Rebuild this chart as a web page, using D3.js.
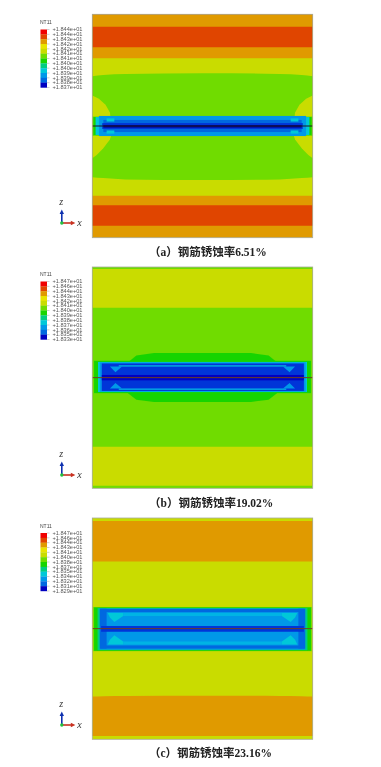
<!DOCTYPE html>
<html>
<head>
<meta charset="utf-8">
<style>
  html, body { margin: 0; padding: 0; background: #fff; }
  svg { display: block; }
</style>
<script src="https://cdn.jsdelivr.net/npm/d3@7"></script>
</head>
<body>
<svg id="chart" width="381" height="767"></svg>
<script>
// contour colours, top of legend to bottom
const levelColors = ['#f00000', '#e04400', '#e09a00', '#e8e400', '#c9dc00', '#6fdc00',
  '#18d400', '#00cc80', '#00c8d8', '#0098e8', '#0068e0', '#0000c0'];
// in-between shades seen inside the rebar zone, not in the legend
const shadeDeep = 12;
const shadeNavy = 13;
const shadeLight = 14;
const zoneColors = levelColors.concat(['#0034d8', '#000090', '#00b4e4']);

const captionsText = ['（a）钢筋锈蚀率6.51%', '（b）钢筋锈蚀率19.02%', '（c）钢筋锈蚀率23.16%'];

const legendA = [18.44, 18.44, 18.43, 18.42, 18.42, 18.41, 18.41, 18.40, 18.40, 18.39, 18.39, 18.38, 18.37];
const legendB = [18.47, 18.46, 18.44, 18.43, 18.42, 18.41, 18.40, 18.39, 18.38, 18.37, 18.36, 18.35, 18.33];
const legendC = [18.47, 18.46, 18.44, 18.43, 18.41, 18.40, 18.38, 18.37, 18.35, 18.34, 18.32, 18.31, 18.29];

// horizontal bands: [level, lower boundary depth in % of height]
// a boundary with several depths follows edgeStations, one depth is a straight band
const edgeStations = [0, 5, 15, 50, 85, 95, 100];
const bandsA = [
  [2, [5.55]], [1, [14.8]], [2, [19.7]],
  [4, [27.7, 27.2, 26.7, 26.4, 26.7, 27.2, 27.7]],
  [5, [72.9, 73.3, 73.9, 74.2, 73.9, 73.3, 72.9]],
  [4, [81.2]], [2, [85.5]], [1, [94.6]], [2, [100]]
];
const bandsB = [[5, [0.9]], [4, [18.4]], [5, [81.2]], [4, [98.8]], [5, [100]]];
const bandsC = [
  [4, [1.4]], [2, [19.6]],
  [4, [80.7, 80.5, 80.4, 80.3, 80.4, 80.5, 80.7]],
  [2, [98.5]], [4, [100]]
];

// closed contours: [level, [[x %, depth %], ...]]
const blobsA = [
  [4, [[0, 36.4], [3, 37.8], [6, 40.5], [8, 44], [8.2, 45.8], [0, 45.8]]],
  [4, [[0, 54.5], [8.5, 54.5], [8, 56], [5, 60], [2, 63], [0, 64.4]]],
  [4, [[100, 36.4], [97, 37.8], [94, 40.5], [92, 44], [91.8, 45.8], [100, 45.8]]],
  [4, [[100, 54.5], [91.5, 54.5], [92, 56], [95, 60], [98, 63], [100, 64.4]]]
];
const blobsB = [
  [6, [[16.2, 43], [20, 40], [28, 38.9], [72, 38.9], [80, 40], [83.8, 43],
    [83.8, 57], [80, 60], [72, 61], [28, 61], [20, 60], [16.2, 57]]]
];
const blobsC = [];

// rebar zone, painted in order: [level, x0, x1, depth0, depth1]
const zoneA = [
  [6, 0.5, 99.5, 46, 54],
  [8, 1.5, 98.5, 46, 54],
  [9, 3, 97, 45.5, 54.5],
  [10, 5, 95, 47.3, 52.7],
  [shadeDeep, 4.5, 95.5, 48.7, 51.3],
  [shadeNavy, 5, 95, 49.6, 50.7],
  [8, 6.5, 10, 46.6, 48],
  [8, 6.5, 10, 52, 53.4],
  [8, 90, 93.5, 46.6, 48],
  [8, 90, 93.5, 52, 53.4]
];
const zoneB = [
  [6, 0.8, 99.2, 42.4, 57],
  [8, 2.6, 97.4, 42.9, 56.5],
  [9, 3.4, 96.8, 43.1, 56.3],
  [shadeDeep, 4.3, 96, 43.6, 56],
  [shadeLight, 12, 88, 44.4, 45],
  [shadeLight, 12, 88, 54.9, 55.5],
  [11, 4.3, 96, 48.8, 51.2]
];
const zoneC = [
  [5, 0.4, 99.6, 40.2, 60.2],
  [6, 0.8, 99.2, 40.4, 60],
  [7, 2.4, 97.6, 40.7, 59.7],
  [9, 3.4, 96.6, 40.9, 59.5],
  [10, 3.6, 96.4, 41.1, 42.5],
  [10, 3.6, 96.4, 57.6, 59],
  [shadeLight, 14, 86, 42.9, 44.3],
  [shadeLight, 14, 86, 55.8, 57.2],
  [10, 3.4, 6.5, 41, 59],
  [10, 93.5, 96.6, 41, 59],
  [shadeDeep, 4, 96, 48.8, 51.4]
];
// lighter wedges near the zone ends
const wedgesB = [
  [9, [[8, 45], [13.5, 45], [10.5, 47.6]]],
  [9, [[8, 54.9], [13.5, 54.9], [10.5, 52.4]]],
  [9, [[92, 45], [86.5, 45], [89.5, 47.6]]],
  [9, [[92, 54.9], [86.5, 54.9], [89.5, 52.4]]]
];
const wedgesC = [
  [8, [[7, 42.9], [14, 42.9], [14, 44.3], [10, 47], [8, 45]]],
  [8, [[7, 57.2], [14, 57.2], [14, 55.8], [10, 53], [8, 55]]],
  [8, [[93, 42.9], [86, 42.9], [86, 44.3], [90, 47], [92, 45]]],
  [8, [[93, 57.2], [86, 57.2], [86, 55.8], [90, 53], [92, 55]]]
];

const svg = d3.select('#chart');

const defs = svg.append('defs');
defs.append('filter').attr('id', 'soft').append('feGaussianBlur').attr('stdDeviation', 0.65);
defs.append('filter').attr('id', 'softText').append('feGaussianBlur').attr('stdDeviation', 0.25);

function drawPanel(opts) {
  const x = d3.scaleLinear().domain([0, 100]).range([92.3, 312.7]);
  const y = d3.scaleLinear().domain([0, 100]).range([opts.top, opts.bottom]);
  const color = (i) => zoneColors[i];

  const plot = svg.append('g').attr('filter', 'url(#soft)');

  // lowest band first, each one reaches up to the top of the plot
  const area = d3.area()
    .x((d) => x(d[0]))
    .y0(y(0))
    .y1((d) => y(d[1]))
    .curve(d3.curveMonotoneX);
  plot.selectAll('path.band')
    .data(opts.bands.slice().reverse())
    .enter()
    .append('path')
    .attr('class', 'band')
    .attr('fill', (d) => color(d[0]))
    .attr('d', (d) => {
      const depths = d[1].length === 1 ? edgeStations.map(() => d[1][0]) : d[1];
      return area(edgeStations.map((s, i) => [s, depths[i]]));
    });

  const line = d3.line()
    .x((d) => x(d[0]))
    .y((d) => y(d[1]))
    .curve(d3.curveLinearClosed);

  plot.selectAll('path.blob')
    .data(opts.blobs)
    .enter()
    .append('path')
    .attr('class', 'blob')
    .attr('fill', (d) => color(d[0]))
    .attr('d', (d) => line(d[1]));

  plot.selectAll('rect.zone')
    .data(opts.zone)
    .enter()
    .append('rect')
    .attr('class', 'zone')
    .attr('x', (d) => x(d[1]))
    .attr('width', (d) => x(d[2]) - x(d[1]))
    .attr('y', (d) => y(d[3]))
    .attr('height', (d) => y(d[4]) - y(d[3]))
    .attr('fill', (d) => color(d[0]));

  plot.selectAll('path.wedge')
    .data(opts.wedges)
    .enter()
    .append('path')
    .attr('class', 'wedge')
    .attr('fill', (d) => color(d[0]))
    .attr('d', (d) => line(d[1]));

  // rebar
  plot.append('line')
    .attr('x1', x(0)).attr('x2', x(100))
    .attr('y1', y(50)).attr('y2', y(50))
    .attr('stroke', opts.rebar)
    .attr('stroke-width', 1);

  svg.append('rect')
    .attr('x', x(0)).attr('y', y(0))
    .attr('width', x(100) - x(0)).attr('height', y(100) - y(0))
    .attr('fill', 'none')
    .attr('stroke', '#a8ad9c')
    .attr('stroke-width', 0.8);

  drawLegend(opts);
  drawTriad(opts.triadY);

  svg.append('text')
    .attr('x', opts.captionX)
    .attr('y', opts.captionY)
    .attr('font-family', '"Liberation Serif", "Noto Sans CJK SC", serif')
    .attr('font-weight', 'bold')
    .attr('font-size', 11.5)
    .attr('fill', '#222')
    .attr('filter', 'url(#softText)')
    .text(opts.caption);
}

function drawLegend(opts) {
  const g = svg.append('g');
  const count = opts.legend.length;
  const ly = d3.scaleLinear().domain([0, count - 1]).range([opts.legendTop, opts.legendTop + 58]);

  g.append('text')
    .attr('x', 40).attr('y', opts.legendTop - 5.5)
    .attr('font-family', '"Liberation Sans", sans-serif')
    .attr('font-size', 5)
    .attr('fill', '#444')
    .attr('filter', 'url(#softText)')
    .text('NT11');

  g.selectAll('rect')
    .data(levelColors)
    .enter()
    .append('rect')
    .attr('x', 40.5)
    .attr('width', 6.5)
    .attr('y', (d, i) => ly(i))
    .attr('height', ly(1) - ly(0) + 0.2)
    .attr('fill', (d) => d);

  g.selectAll('line')
    .data(opts.legend)
    .enter()
    .append('line')
    .attr('x1', 47).attr('x2', 49.5)
    .attr('y1', (d, i) => ly(i)).attr('y2', (d, i) => ly(i))
    .attr('stroke', '#888')
    .attr('stroke-width', 0.4);

  const fmt = d3.format('.3e');
  g.selectAll('text.tick')
    .data(opts.legend)
    .enter()
    .append('text')
    .attr('class', 'tick')
    .attr('x', 52.5)
    .attr('y', (d, i) => ly(i) + 1.8)
    .attr('font-family', '"Liberation Sans", sans-serif')
    .attr('font-size', 5.6)
    .attr('fill', '#555')
    .attr('filter', 'url(#softText)')
    .text((d) => '+' + fmt(d).replace('e+', 'e+0'));
}

function drawTriad(oy) {
  const ox = 61.8;
  const g = svg.append('g').attr('filter', 'url(#softText)');
  g.append('line').attr('x1', ox).attr('y1', oy).attr('x2', ox).attr('y2', oy - 10)
    .attr('stroke', '#1030b0').attr('stroke-width', 1.6);
  g.append('path').attr('d', `M${ox - 2.2},${oy - 9}L${ox},${oy - 13.5}L${ox + 2.2},${oy - 9}Z`).attr('fill', '#1030b0');
  g.append('line').attr('x1', ox).attr('y1', oy).attr('x2', ox + 10).attr('y2', oy)
    .attr('stroke', '#c83020').attr('stroke-width', 1.6);
  g.append('path').attr('d', `M${ox + 9},${oy - 2.2}L${ox + 13.5},${oy}L${ox + 9},${oy + 2.2}Z`).attr('fill', '#c83020');
  g.append('circle').attr('cx', ox).attr('cy', oy).attr('r', 1.7).attr('fill', '#20c040');
  const label = (t, lx, ly) => g.append('text')
    .attr('x', lx).attr('y', ly)
    .attr('font-family', '"Liberation Serif", serif')
    .attr('font-style', 'italic')
    .attr('font-size', 10)
    .attr('fill', '#333')
    .text(t);
  label('z', ox - 2.5, oy - 18);
  label('x', ox + 15.5, oy + 3);
}

drawPanel({
  top: 14.3, bottom: 237.7, bands: bandsA, blobs: blobsA, zone: zoneA, wedges: [],
  rebar: '#201820', legend: legendA, legendTop: 29.5, triadY: 223,
  caption: captionsText[0], captionX: 149, captionY: 256
});
drawPanel({
  top: 267, bottom: 488.3, bands: bandsB, blobs: blobsB, zone: zoneB, wedges: wedgesB,
  rebar: '#6b4020', legend: legendB, legendTop: 281.5, triadY: 475,
  caption: captionsText[1], captionX: 149, captionY: 507
});
drawPanel({
  top: 518, bottom: 739.3, bands: bandsC, blobs: blobsC, zone: zoneC, wedges: wedgesC,
  rebar: '#6b4020', legend: legendC, legendTop: 533, triadY: 725,
  caption: captionsText[2], captionX: 149, captionY: 757
});
</script>
</body>
</html>
